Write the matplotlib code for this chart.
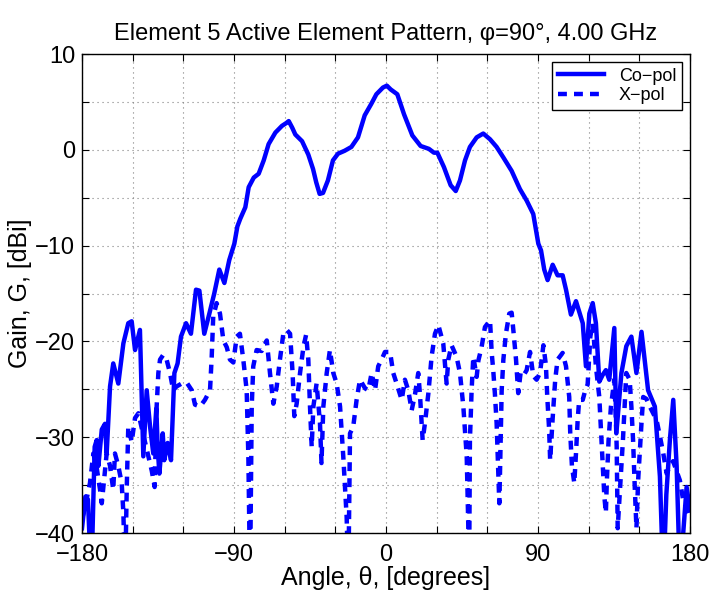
import matplotlib
matplotlib.use("Agg")
import matplotlib.pyplot as plt
from matplotlib.ticker import FixedLocator, FixedFormatter

plt.rcParams['font.family'] = ['Liberation Sans', 'DejaVu Sans']

# co-pol pattern (angle deg, gain dBi); values under -40 fall off the axes
co_ang = [-180, -179, -178, -176.5, -174.5, -172.5, -171.3, -170.3, -168.3, -166.4,
          -165.4, -163.4, -161.5, -158.5, -155.5, -152.6, -150.6, -148.6, -145.7, -143.7,
          -141.7, -139.7, -137.8, -136, -135.2, -134.2, -132.2, -131.3, -129.3, -127.3,
          -125.3, -123.4, -121.4, -118.4, -115.5, -112.5, -110.5, -107.6, -104.6, -101.7,
          -98.7, -95.7, -92.8, -89.8, -88, -86.3, -83.3, -81.3, -78.3, -75.4,
          -72.4, -69.5, -65.5, -61.6, -59, -57.6, -55.5, -53.7, -49.7, -46,
          -43.2, -41.3, -39.3, -37.3, -34.4, -31.4, -28.4, -24.5, -20.5, -16.6,
          -12.6, -8.7, -5.7, -1.8, 0.5, 2.8, 6.7, 10.7, 15.6, 20.5,
          25.4, 28.4, 30.4, 34.3, 38.3, 41.3, 43.8, 46.8, 49.7, 53.7,
          57.6, 61.6, 65.5, 69.5, 74.4, 79.3, 83.3, 87.2, 90.2, 91.8,
          93.7, 95.7, 98.7, 101.6, 104.6, 106.6, 109.5, 112.5, 116.5, 118.4,
          120.4, 122.4, 124.3, 126.3, 128.3, 130.2, 132.2, 135.2, 136.4, 139.4,
          142.3, 145.3, 148.3, 151.3, 155.2, 159.2, 162.2, 164.2, 166, 168.1,
          170.1, 172.1, 174.1, 176, 178, 180]
co_gain = [-39.5, -37.9, -36.2, -36.5, -45, -31, -30.3, -33, -29.2, -28.6,
           -31.7, -24.7, -22.3, -24.4, -20.2, -18.1, -17.9, -20.9, -18.8, -32,
           -25.1, -28.9, -31.7, -27, -31, -33.8, -29.6, -32.4, -30.6, -32.4,
           -23.3, -22.3, -19.5, -18.1, -19.2, -14.6, -14.7, -19.2, -17.1, -15,
           -12.5, -13.9, -11.5, -9.8, -8.0, -7.2, -6.0, -3.9, -2.9, -2.5,
           -1.1, 0.6, 1.8, 2.5, 2.8, 3.0, 2.3, 1.6, 0.9, -0.5,
           -2, -3.4, -4.6, -4.5, -3.2, -1.1, -0.4, -0.1, 0.3, 1.3,
           3.6, 4.8, 5.8, 6.5, 6.7, 6.3, 5.8, 3.7, 1.5, 0.4,
           0.1, -0.3, -0.3, -1.8, -3.7, -4.3, -3.2, -1.1, 0.3, 1.3,
           1.7, 1.1, 0.3, -0.8, -2.2, -4.1, -5.3, -6.7, -9.8, -10.5,
           -12.5, -13.6, -12, -13.1, -13.1, -14.6, -17.2, -15.8, -18.1, -22.6,
           -17.1, -16, -18.1, -24.2, -23.5, -23, -24, -18.6, -29.6, -23.3,
           -20.5, -19.5, -23.3, -19, -25.1, -26.8, -34.1, -45, -36, -30.3,
           -26.1, -33, -45, -40, -35.2, -37.6]

# cross-pol pattern
x_ang = [-180, -179, -177.3, -175.3, -173.3, -171.3, -169.3, -168.3, -165.4, -163.4,
         -161.5, -160.5, -158.5, -156.5, -155.5, -154.5, -153.5, -152.6, -150.6, -148.6,
         -146.6, -144.7, -142.7, -140.7, -138.7, -137, -135.8, -134.8, -133.8, -131.9,
         -129.9, -127.9, -126, -124, -121, -118, -115, -113.1, -110.1, -107.2,
         -104.2, -103.2, -102.3, -100.3, -98.3, -96.3, -94.3, -92.4, -90.4, -88.4,
         -86.5, -84.5, -82.5, -81.5, -80.5, -79.5, -78.6, -76.6, -73.6, -70.6,
         -68.7, -66.7, -64.7, -62.8, -60.8, -58.8, -56.8, -55.3, -54.3, -52.9,
         -50.9, -48.9, -47.3, -46, -45, -44, -43, -41.1, -39.1, -38.2,
         -37.1, -35.1, -33.2, -31.2, -29.2, -27.2, -25.3, -23.3, -22.3, -21.3,
         -19.4, -17.4, -15.4, -12.4, -10.5, -8.5, -6.5, -4.6, -2.6, -0.6,
         2.4, 4.3, 6.3, 9.3, 11.2, 13.2, 15.2, 17.2, 19.1, 20.1,
         21.7, 23.1, 25.1, 27, 29, 31, 33.9, 35.9, 36.9, 38.8,
         41.8, 43.8, 45.8, 47.8, 48.7, 49.2, 49.7, 50.7, 51.7, 53.7,
         54.7, 56.6, 58.6, 61.6, 62.6, 63.5, 64.5, 65.5, 66.5, 67.1,
         67.5, 68.1, 68.5, 69.5, 71, 73, 74.4, 75.4, 77, 78.3,
         79.7, 81.3, 83.3, 85.3, 87.2, 89.2, 91.2, 93.2, 94.7, 95.5,
         96.6, 97.2, 98.7, 100.2, 101.6, 104.6, 106.6, 108.5, 109.1, 110.1,
         111.5, 112.5, 113.5, 114.4, 116.5, 118, 119.4, 121, 122.4, 124.3,
         126.3, 127.3, 128.3, 129.3, 130.2, 130.8, 131.8, 133.2, 135.2, 136,
         136.6, 137.2, 138.4, 140.3, 141.3, 142.3, 144.3, 145.3, 146.3, 147.3,
         148.3, 149.3, 151.3, 152.3, 154.2, 156.2, 158.2, 160.2, 162.2, 164.2,
         166.2, 168, 170, 172, 174, 176, 178, 180]
x_gain = [-38.5, -37.9, -36.5, -34.8, -31.7, -33.2, -35.5, -36.9, -31.7, -33,
          -35.5, -31.7, -33, -34.8, -37.9, -45, -35.2, -28.9, -30.5, -28,
          -27.5, -29, -30.5, -32, -33.5, -35.2, -26.8, -23.3, -21.9, -21.4,
          -21.9, -23.3, -25.1, -24.7, -24.4, -24.3, -25.1, -26.6, -26.8, -26.1,
          -25.1, -21.6, -17.4, -16, -17.1, -19.9, -20.6, -21.9, -22.2, -19.5,
          -19.2, -21.9, -25.1, -32, -45, -26.8, -22.6, -20.9, -21.0, -19.9,
          -23.3, -26.5, -24.7, -21.9, -19.2, -18.8, -19.2, -23.3, -27.8, -26.5,
          -23.3, -20.6, -19.3, -21.9, -26.8, -31, -26.8, -24.4, -28.5, -32.7,
          -26.8, -23.3, -20.9, -23.3, -24.4, -26.8, -32, -38.3, -45, -29.6,
          -28.9, -26.1, -24, -24.9, -25.1, -23.3, -25.1, -22.6, -21.9, -21.1,
          -21.1, -23.3, -24.4, -26.1, -24, -25.1, -27.2, -25.5, -23.3, -25.5,
          -30.3, -28.5, -25.4, -21.6, -19.2, -18.3, -20.2, -24.4, -21.9, -20.4,
          -21.6, -23.3, -26.8, -32, -39, -45, -30.3, -25.1, -21.6, -23.7,
          -22, -20.6, -18.5, -17.8, -21.2, -23, -25.5, -28.5, -33.8, -36.9,
          -33.8, -28.5, -25.1, -21.9, -19.2, -17.1, -17.0, -18.8, -21.9, -25.4,
          -23.3, -23.6, -23, -21.1, -23.6, -24, -23.3, -20.4, -22.5, -25.8,
          -29.2, -32.4, -28, -24, -21.9, -21.2, -22.6, -25.8, -29.6, -33,
          -34.8, -31.7, -28.2, -26.1, -26.1, -25.1, -24.5, -19.5, -18.1, -22.6,
          -25.8, -29.2, -32.7, -36.2, -37.9, -34.5, -30.3, -26.8, -24, -27.5,
          -31, -39.5, -36, -30.3, -26.8, -23.3, -24, -26.8, -30.3, -35.2,
          -39.5, -34.5, -28.5, -25.8, -26, -26.8, -27.5, -28.2, -29.9, -31.7,
          -33.8, -33, -32.5, -33.5, -34.5, -36.6, -37.5, -38.5]

fig = plt.figure(figsize=(7.15, 5.95), dpi=100)
ax = fig.add_axes([0.1147, 0.1042, 0.8503, 0.805])

ax.plot(co_ang, co_gain, color=(0, 0, 1), lw=3.2, label='Co\u2212pol')
xl, = ax.plot(x_ang, x_gain, color=(0, 0, 1), lw=3.2, ls='--', label='X\u2212pol')
xl.set_dashes([2.0, 1.6])

ax.set_xlim(-180, 180)
ax.set_ylim(-40, 10)

def lab(v):
    return '\u2212%d' % -v if v < 0 else '%d' % v

xt = list(range(-180, 181, 30))
ax.xaxis.set_major_locator(FixedLocator(xt))
ax.xaxis.set_major_formatter(FixedFormatter([lab(v) if v % 90 == 0 else '' for v in xt]))
yt = list(range(-40, 11, 5))
ax.yaxis.set_major_locator(FixedLocator(yt))
ax.yaxis.set_major_formatter(FixedFormatter([lab(v) if v % 10 == 0 else '' for v in yt]))

ax.tick_params(direction='in', top=True, right=True, length=5, width=0.8,
               labelsize=17)
ax.tick_params(axis='x', pad=8)
ax.tick_params(axis='y', pad=5)
ax.grid(True, ls=(0, (1, 3.5)), color='0.5', lw=0.8)
for s in ax.spines.values():
    s.set_linewidth(1.0)

ax.set_title('Element 5 Active Element Pattern, \u03c6=90\u00b0, 4.00 GHz',
             fontsize=17, pad=10)
ax.set_xlabel('Angle, \u03b8, [degrees]', fontsize=18, labelpad=0)
ax.set_ylabel('Gain, G, [dBi]', fontsize=18, labelpad=2)

leg = ax.legend(loc='upper right', fontsize=13, fancybox=False, framealpha=1,
                edgecolor='black', borderaxespad=0.45, handlelength=2.6,
                borderpad=0.3, labelspacing=0.15, handletextpad=0.8)
leg.get_frame().set_linewidth(1.0)

fig.savefig('out.png', dpi=100)
